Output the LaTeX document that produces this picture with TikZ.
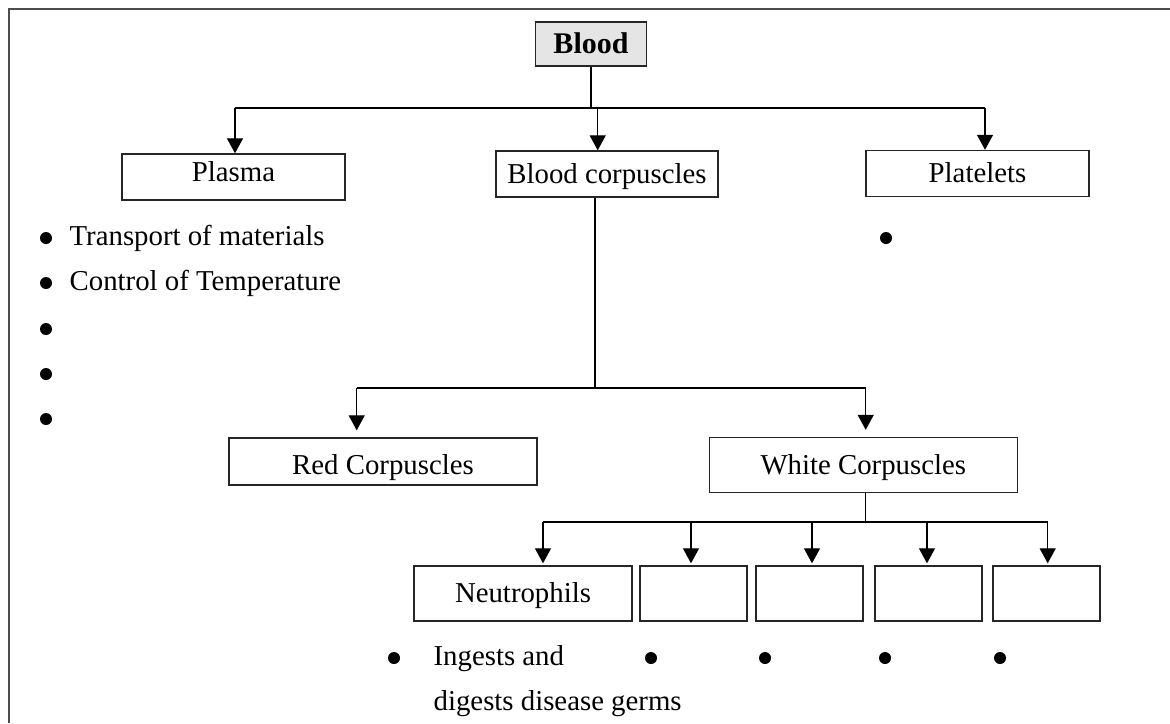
\documentclass[tikz,border=0pt]{standalone}
\usepackage{fontspec}
\setmainfont{Liberation Serif}
\usetikzlibrary{arrows.meta,positioning}

\begin{document}
\begin{tikzpicture}
	[x=0.5pt,y=-0.5pt,line width=0.65pt,
	arr/.style={-{Triangle[width=8pt,length=7.5pt]}},
	box/.style={shape=rectangle,draw=black!85,line width=0.7pt,inner sep=0pt,
		font=\fontsize{14.4}{17}\selectfont,text height=10pt,text depth=1pt},
	item/.style={inner sep=0pt,anchor=west,font=\fontsize{14.4}{17}\selectfont,
		text height=9.5pt,text depth=0pt},
	dot/.style={shape=circle,fill=black,inner sep=0pt,minimum size=6pt}]
	\useasboundingbox (0,0) rectangle (1170,723);
	\draw[black!70,line width=1pt] (8.5,723) -- (8.5,9) -- (1170,9);
	% boxes
	\node[box,fill=black!10,minimum width=55.5pt,minimum height=22pt,font=\fontsize{15}{17}\bfseries] (blood) at (591,44) {Blood};
	\node[box,minimum width=111.5pt,minimum height=23pt,text depth=5.5pt] (plasma) at (233.5,177) {Plasma};
	\node[box,minimum width=111pt,minimum height=23pt] (corp) at (607,174) {Blood corpuscles};
	\node[box,minimum width=111.5pt,minimum height=23pt] (platelets) at (977.5,173.5) {Platelets};
	\node[box,minimum width=154pt,minimum height=23.5pt,text height=12.5pt,text depth=0pt] (red) at (383,461.5) {Red Corpuscles};
	\node[box,minimum width=154pt,minimum height=27.5pt] (white) at (863.3,465) {White Corpuscles};
	\node[box,minimum width=109pt,minimum height=27.5pt] (neut) at (523,593.5) {Neutrophils};
	\foreach \n/\x in {b/693.5,c/809.5,d/928.5,e/1046.3}
		\node[box,minimum width=53.5pt,minimum height=27.5pt] (wc\n) at (\x,593.5) {};
	% branches from Blood
	\coordinate (j1) at (591,108);
	\coordinate (j1l) at (235,108);
	\coordinate (j1m) at (597.7,108);
	\coordinate (j1r) at (985,108);
	\draw (blood) -- (j1);
	\draw (j1l) -- (j1r);
	\draw[arr] (j1l) -- (j1l |- plasma.north);
	\draw[arr] (j1m) -- (j1m |- corp.north);
	\draw[arr] (j1r) -- (j1r |- platelets.north);
	% branches from Blood corpuscles
	\coordinate (j2) at (595,388);
	\coordinate (j2l) at (356.7,388);
	\coordinate (j2r) at (865.7,388);
	\draw (j2 |- corp.south) -- (j2);
	\draw (j2l) -- (j2r);
	\draw[arr,shorten >=3.5pt] (j2l) -- (j2l |- red.north);
	\draw[arr,shorten >=3.5pt] (j2r) -- (j2r |- white.north);
	% branches from White Corpuscles
	\coordinate (j3) at (865.7,522);
	\draw (j3 |- white.south) -- (j3);
	\draw (543,522) coordinate (j3a) -- (1047.7,522) coordinate (j3e);
	\draw[arr,shorten >=1pt] (j3a) -- (j3a |- neut.north);
	\foreach \n/\x in {b/691,c/812,d/927,e/1047.7}
		\draw[arr,shorten >=1pt] (\x,522) -- (\x,522 |- wc\n.north);
	% Plasma points
	\foreach \y [count=\i] in {238,283,329,374,419}
		\node[dot] (pd\i) at (46,\y) {};
	\node[item] (p1) at (69,236) {Transport of materials};
	\node[item] (p2) at (69,281) {Control of Temperature};
	% Platelets point
	\node[dot] (qd1) at (886,238) {};
	% corpuscle points
	\foreach \x [count=\i] in {394,651,765,885,1000}
		\node[dot] (nd\i) at (\x,658) {};
	\node[item] (n1) at (433,656) {Ingests and};
	\node[item] (n2) at (433,701) {digests disease germs};
\end{tikzpicture}
\end{document}
